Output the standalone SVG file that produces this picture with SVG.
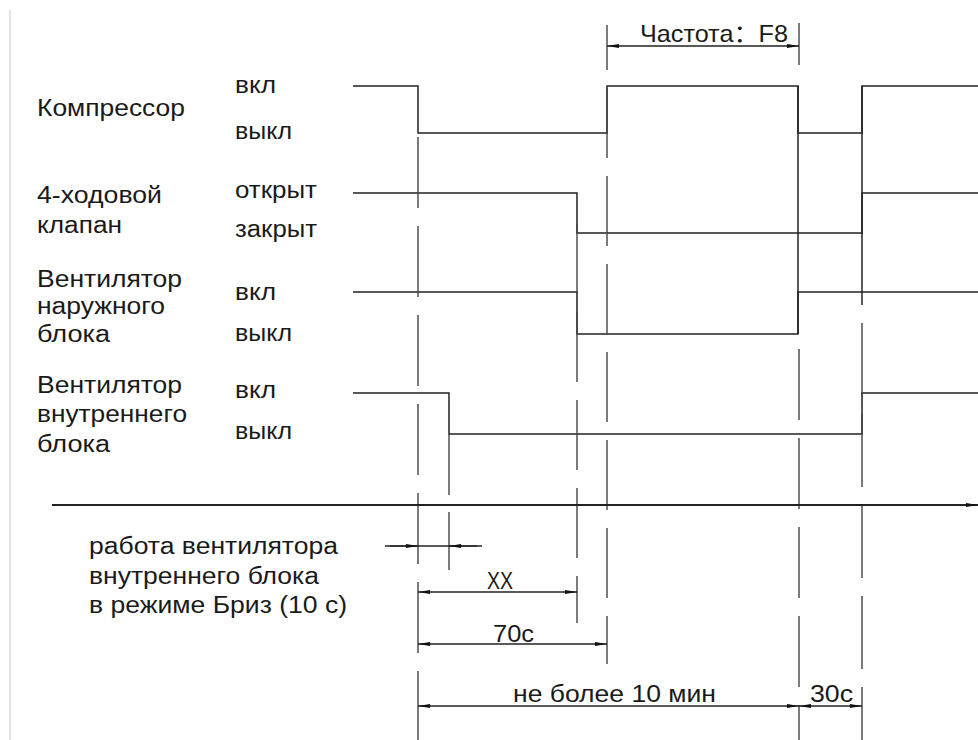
<svg xmlns="http://www.w3.org/2000/svg" width="978" height="740" viewBox="0 0 978 740">
  <style>
    .sig { fill: none; stroke: #222; stroke-width: 1.5; }
    .cl { fill: none; stroke: #444; stroke-width: 1.4; stroke-dasharray: 71 18; }
    .ext { fill: none; stroke: #444; stroke-width: 1.4; }
    .dim { fill: none; stroke: #222; stroke-width: 1.3; }
    .t { font-family: "Liberation Sans", "Noto Sans CJK SC", sans-serif; font-size: 23px; fill: #1a1a1a; }
    .d { font-family: "Liberation Sans", "Noto Sans CJK SC", sans-serif; font-size: 24px; fill: #1a1a1a; }
  </style>
  <defs>
    <marker id="arr" markerUnits="userSpaceOnUse" markerWidth="13" markerHeight="6" refX="12" refY="3" orient="auto-start-reverse">
      <path d="M0,0.9 L12,3 L0,5.1 z" fill="#111"/>
    </marker>
  </defs>
  <rect width="978" height="740" fill="#fff"/>
  <line x1="10" y1="10" x2="10" y2="740" stroke="#e4e4e4" stroke-width="2"/>

  <g id="compressor">
    <text class="t" x="37" y="116" textLength="148" lengthAdjust="spacingAndGlyphs">Компрессор</text>
    <text class="t" x="235" y="93" textLength="41" lengthAdjust="spacingAndGlyphs">вкл</text>
    <text class="t" x="235" y="139" textLength="57" lengthAdjust="spacingAndGlyphs">выкл</text>
    <path class="sig" d="M353,86 H418 V133 H607 V86 H798 V133 H862 V86 H978"/>
  </g>
  <g id="valve">
    <text class="t" x="37" y="203" textLength="125" lengthAdjust="spacingAndGlyphs">4-ходовой</text>
    <text class="t" x="37" y="233" textLength="85" lengthAdjust="spacingAndGlyphs">клапан</text>
    <text class="t" x="235" y="198" textLength="82" lengthAdjust="spacingAndGlyphs">открыт</text>
    <text class="t" x="235" y="237" textLength="82" lengthAdjust="spacingAndGlyphs">закрыт</text>
    <path class="sig" d="M353,193 H577 V233 H862 V193 H978"/>
  </g>
  <g id="outdoor-fan">
    <text class="t" x="37" y="287" textLength="145" lengthAdjust="spacingAndGlyphs">Вентилятор</text>
    <text class="t" x="37" y="314" textLength="128" lengthAdjust="spacingAndGlyphs">наружного</text>
    <text class="t" x="37" y="342" textLength="73" lengthAdjust="spacingAndGlyphs">блока</text>
    <text class="t" x="235" y="300" textLength="41" lengthAdjust="spacingAndGlyphs">вкл</text>
    <text class="t" x="235" y="341" textLength="57" lengthAdjust="spacingAndGlyphs">выкл</text>
    <path class="sig" d="M353,292 H577 V334 H798 V292 H978"/>
    <path class="sig" d="M798,86 V334"/>
  </g>
  <g id="indoor-fan">
    <text class="t" x="37" y="393" textLength="145" lengthAdjust="spacingAndGlyphs">Вентилятор</text>
    <text class="t" x="37" y="422" textLength="150" lengthAdjust="spacingAndGlyphs">внутреннего</text>
    <text class="t" x="37" y="452" textLength="73" lengthAdjust="spacingAndGlyphs">блока</text>
    <text class="t" x="235" y="398" textLength="41" lengthAdjust="spacingAndGlyphs">вкл</text>
    <text class="t" x="235" y="439" textLength="57" lengthAdjust="spacingAndGlyphs">выкл</text>
    <path class="sig" d="M353,393 H449 V434 H862 V393 H978"/>
  </g>

  <g id="center-lines">
    <line class="cl" x1="418" y1="137" x2="418" y2="740"/>
    <line class="ext" x1="449" y1="434" x2="449" y2="495"/>
    <line class="ext" x1="449" y1="512" x2="449" y2="570"/>
    <line class="cl" x1="577" y1="224" x2="577" y2="623" style="stroke-dasharray:70 18"/>
    <line class="ext" x1="607" y1="25" x2="607" y2="70"/>
    <line class="cl" x1="607" y1="88" x2="607" y2="664" style="stroke-dasharray:70 18"/>
    <line class="ext" x1="799" y1="23" x2="799" y2="65"/>
    <line class="cl" x1="799" y1="349" x2="799" y2="740"/>
    <line class="sig" x1="862" y1="86" x2="862" y2="305"/>
    <line class="cl" x1="862" y1="323" x2="862" y2="740" style="stroke-dasharray:73 18"/>
  </g>

  <g id="time-axis">
    <line x1="52" y1="505" x2="978" y2="505" stroke="#222" stroke-width="1.8" marker-end="url(#arr)"/>
  </g>

  <g id="dimensions">
    <line class="dim" x1="607" y1="46" x2="799" y2="46" marker-start="url(#arr)" marker-end="url(#arr)"/>
    <text class="d" x="640" y="42" textLength="148" lengthAdjust="spacingAndGlyphs">Частота：F8</text>

    <line class="dim" x1="385" y1="546" x2="482" y2="546"/>
    <line class="dim" x1="390" y1="546" x2="418" y2="546" marker-end="url(#arr)"/>
    <line class="dim" x1="449" y1="546" x2="477" y2="546" marker-start="url(#arr)"/>
    <text class="t" x="89" y="554" textLength="249" lengthAdjust="spacingAndGlyphs">работа вентилятора</text>
    <text class="t" x="89" y="584" textLength="230" lengthAdjust="spacingAndGlyphs">внутреннего блока</text>
    <text class="t" x="89" y="613" textLength="258" lengthAdjust="spacingAndGlyphs">в режиме Бриз (10 с)</text>

    <line class="dim" x1="418" y1="592" x2="577" y2="592" marker-start="url(#arr)" marker-end="url(#arr)"/>
    <text class="d" x="487" y="589" textLength="26" lengthAdjust="spacingAndGlyphs">XX</text>

    <line class="dim" x1="418" y1="644" x2="607" y2="644" marker-start="url(#arr)" marker-end="url(#arr)"/>
    <text class="d" x="493" y="642" textLength="41" lengthAdjust="spacingAndGlyphs">70c</text>

    <line class="dim" x1="418" y1="706" x2="799" y2="706" marker-start="url(#arr)" marker-end="url(#arr)"/>
    <text class="d" x="513" y="702" textLength="203" lengthAdjust="spacingAndGlyphs">не более 10 мин</text>

    <line class="dim" x1="799" y1="706" x2="862" y2="706" marker-start="url(#arr)" marker-end="url(#arr)"/>
    <text class="d" x="810" y="702" textLength="43" lengthAdjust="spacingAndGlyphs">30c</text>
  </g>
</svg>
